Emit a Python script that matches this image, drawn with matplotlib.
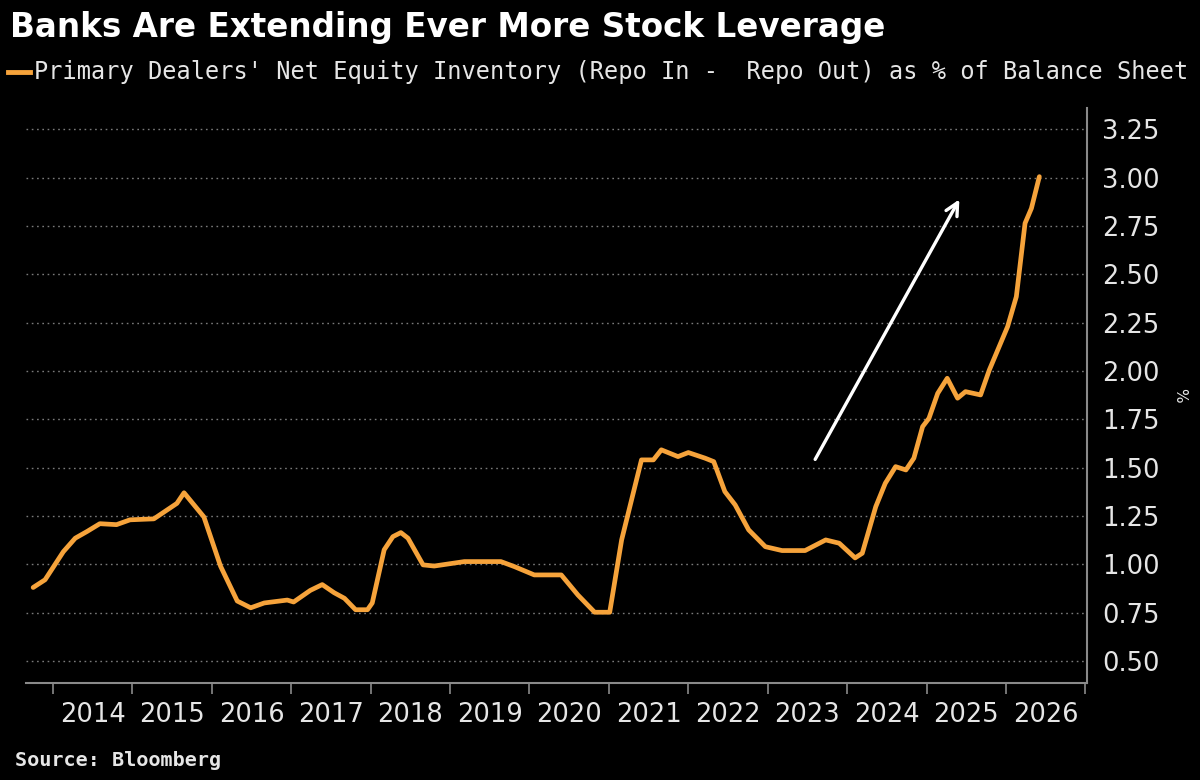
import matplotlib
matplotlib.use('Agg')
from matplotlib import pyplot as plt
from matplotlib.lines import Line2D

# decimal years
dates = [
    2013.75, 2013.90, 2014.13, 2014.28, 2014.43, 2014.59, 2014.80, 2014.97,
    2015.27, 2015.56, 2015.65, 2015.90, 2016.11, 2016.32, 2016.49, 2016.66,
    2016.95, 2017.03, 2017.24, 2017.39, 2017.54, 2017.67, 2017.81, 2017.96,
    2018.02, 2018.17, 2018.28, 2018.38, 2018.47, 2018.66, 2018.80, 2019.18,
    2019.64, 2019.81, 2020.06, 2020.40, 2020.61, 2020.82, 2021.01, 2021.16,
    2021.41, 2021.56, 2021.66, 2021.87, 2022.00, 2022.21, 2022.32, 2022.46,
    2022.59, 2022.76, 2022.97, 2023.18, 2023.47, 2023.73, 2023.90, 2024.10,
    2024.19, 2024.36, 2024.48, 2024.61, 2024.74, 2024.84, 2024.95, 2025.03,
    2025.14, 2025.26, 2025.39, 2025.49, 2025.68, 2025.79, 2026.02, 2026.13,
    2026.24, 2026.32, 2026.42,
]
net_equity_pct = [
    0.880, 0.920, 1.065, 1.135, 1.170, 1.210, 1.205, 1.230,
    1.235, 1.315, 1.370, 1.245, 0.990, 0.810, 0.775, 0.800,
    0.815, 0.805, 0.865, 0.895, 0.853, 0.824, 0.765, 0.765,
    0.800, 1.075, 1.143, 1.164, 1.135, 0.997, 0.991, 1.014,
    1.014, 0.988, 0.945, 0.945, 0.841, 0.752, 0.752, 1.126,
    1.540, 1.540, 1.592, 1.557, 1.578, 1.549, 1.531, 1.376,
    1.307, 1.178, 1.091, 1.071, 1.071, 1.126, 1.109, 1.033,
    1.057, 1.298, 1.419, 1.505, 1.488, 1.549, 1.712, 1.755,
    1.884, 1.962, 1.859, 1.893, 1.876, 2.005, 2.229, 2.384,
    2.764, 2.841, 3.005,
]
years = list(range(2014, 2027))
y_ticks = [0.50, 0.75, 1.00, 1.25, 1.50, 1.75, 2.00, 2.25, 2.50, 2.75, 3.00, 3.25]

# trend arrow (tail -> head)
arrow_tail = (2023.58, 1.53)
arrow_head = (2025.43, 2.90)

TITLE = 'Banks Are Extending Ever More Stock Leverage'
LEGEND = "Primary Dealers' Net Equity Inventory (Repo In -  Repo Out) as % of Balance Sheet"
SOURCE = 'Source: Bloomberg'

ORANGE = '#f6a33b'
TEXT = '#e6e6e6'
AXIS = '#8a8a8a'

fig = plt.figure(figsize=(12, 7.8), dpi=100, facecolor='black')
ax = fig.add_axes([26 / 1200, 1 - 683 / 780, 1061 / 1200, 575 / 780])
ax.set_facecolor('black')

ax.plot(dates, net_equity_pct, color=ORANGE, lw=3.4, solid_joinstyle='round',
        solid_capstyle='round', zorder=3)

ax.annotate('', xy=arrow_head, xytext=arrow_tail,
            arrowprops=dict(arrowstyle='->,head_length=0.9,head_width=0.45',
                            color='white', lw=2.4), zorder=4)

ax.set_xlim(2013.66, 2027.02)
ax.set_ylim(0.386, 3.36)

# year boundaries as tick marks, labels at mid-year
ax.set_xticks(years + [2027])
ax.set_xticklabels([])
ax.set_xticks([y + 0.5 for y in years], minor=True)
ax.set_xticklabels([str(y) for y in years], minor=True)
ax.tick_params(axis='x', which='major', length=8, width=1.2, color=AXIS, direction='out')
ax.tick_params(axis='x', which='minor', length=0, pad=14, labelsize=18.5, labelcolor=TEXT)

ax.yaxis.tick_right()
ax.set_yticks(y_ticks)
ax.set_yticklabels([f'{v:.2f}' for v in y_ticks])
ax.tick_params(axis='y', length=0, pad=11, labelsize=18.5, labelcolor=TEXT)

ax.grid(axis='y', color='#7a7a7a', linestyle=(0, (1.2, 2.6)), linewidth=1.0)
ax.grid(axis='x', visible=False)

for side in ['top', 'left']:
    ax.spines[side].set_visible(False)
for side in ['bottom', 'right']:
    ax.spines[side].set_color(AXIS)
    ax.spines[side].set_linewidth(1.5)

fig.text(10 / 1200, 1 - 28 / 780, TITLE, color='white', fontsize=23.5,
         fontweight='bold', family='DejaVu Sans', va='center', ha='left')

fig.add_artist(Line2D([8 / 1200, 30 / 1200], [1 - 72 / 780, 1 - 72 / 780],
                      color=ORANGE, lw=3.5, transform=fig.transFigure))
fig.text(34 / 1200, 1 - 72 / 780, LEGEND, color=TEXT, fontsize=17,
         family='DejaVu Sans Mono', va='center', ha='left')

fig.text(1180 / 1200, 1 - 395 / 780, '%', color=TEXT, fontsize=11,
         rotation=270, va='center', ha='center')

fig.text(15 / 1200, 1 - 760 / 780, SOURCE, color=TEXT, fontsize=14.5,
         family='DejaVu Sans Mono', fontweight='bold', va='center', ha='left')

fig.savefig('out.png', dpi=100, facecolor='black')
